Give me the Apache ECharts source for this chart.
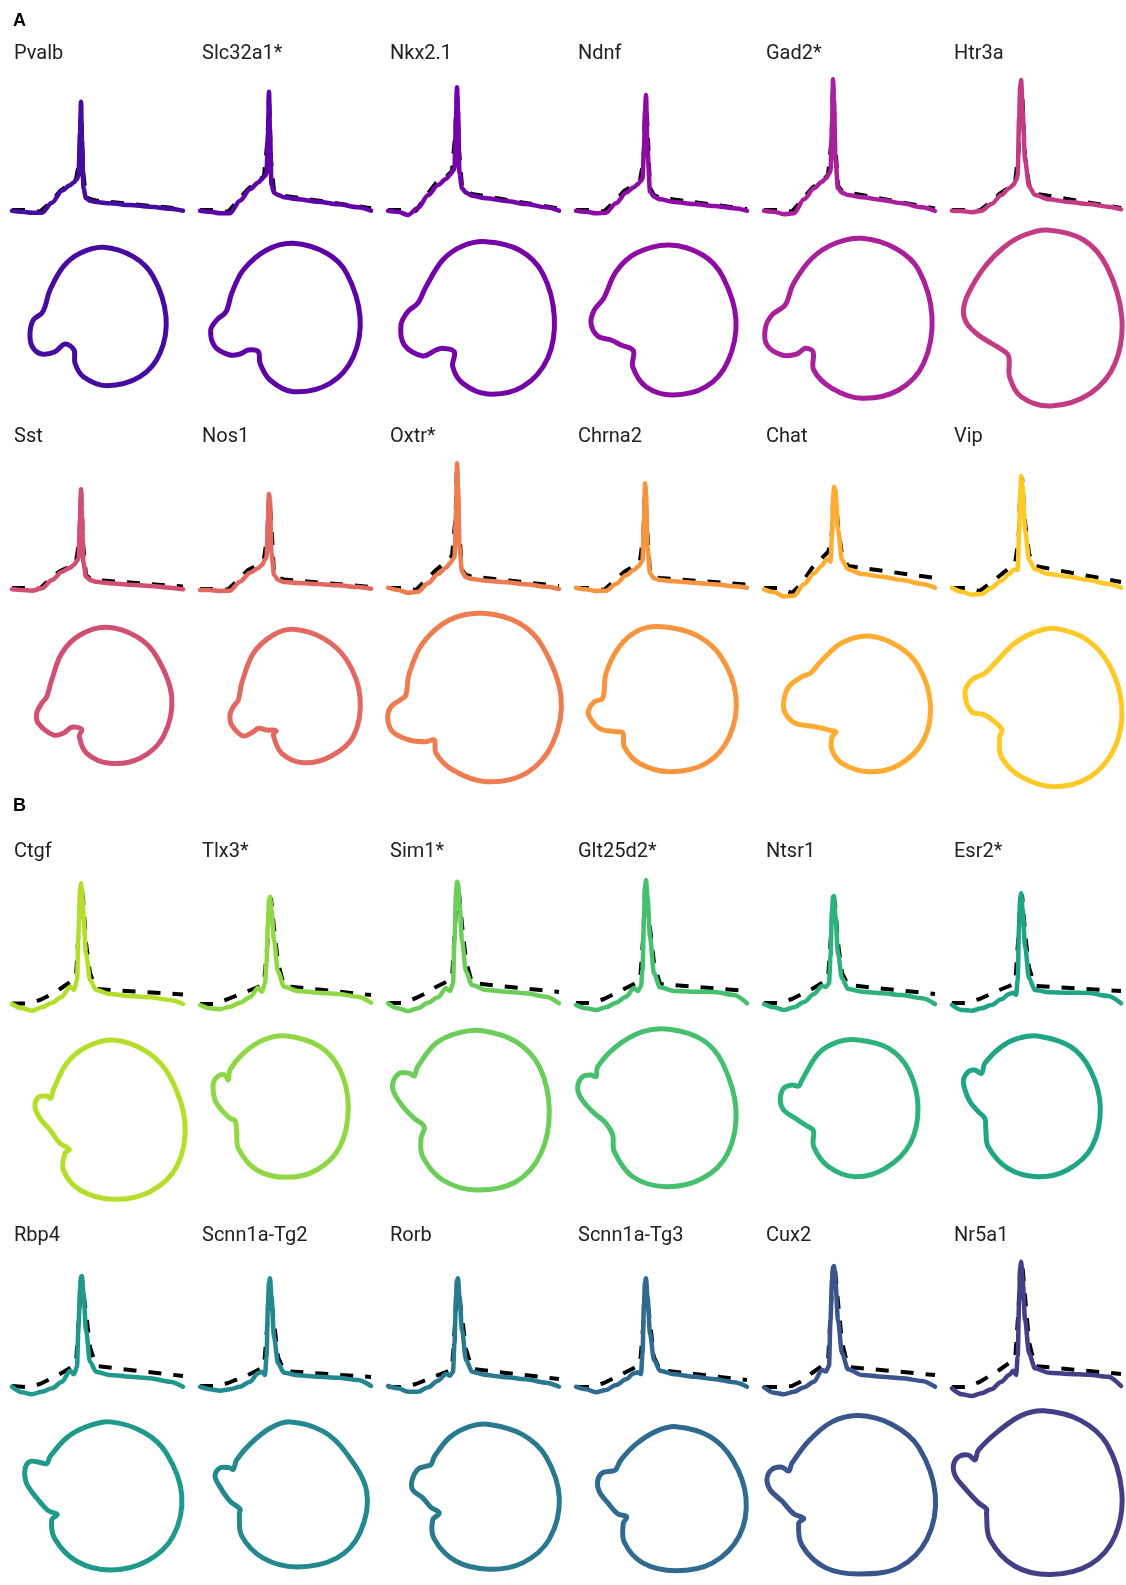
<!DOCTYPE html>
<html><head><meta charset="utf-8">
<script src="https://cdn.jsdelivr.net/npm/echarts/dist/echarts.min.js"></script>
<style>html,body{margin:0;padding:0;background:#fff}#c{width:1126px;height:1585px}</style>
</head><body><div id="c"></div>
<script>
// shared time grids (same for all cells)
const T  = [12, 22, 32, 42, 52, 62, 70, 74, 77, 78.5, 80, 81, 82, 83.5, 86, 90, 96, 110, 130, 150, 170, 183];
const TD = [12, 26, 40, 50, 60, 70, 76, 79.5, 81, 83, 86, 90, 96, 183];

const panelNames = ['Pvalb','Slc32a1*','Nkx2.1','Ndnf','Gad2*','Htr3a','Sst','Nos1','Oxtr*','Chrna2','Chat','Vip',
  'Ctgf','Tlx3*','Sim1*','Glt25d2*','Ntsr1','Esr2*','Rbp4','Scnn1a-Tg2','Rorb','Scnn1a-Tg3','Cux2','Nr5a1'];

// ---- voltage traces (on T) ----
const trPvalb   = [-0.7,-1.7,-2.7,-2.7,7.3,19.3,24.7,27.7,31,34,76.7,108.3,70,21.7,11.7,9.3,8,6.7,5,3.3,1.3,-0.7];
const trSlc32a1 = [-0.7,-1.7,-3.3,-3.3,9.3,20.7,27.3,31,34.3,36.7,76.7,118.3,76.7,25,17.3,15,12.7,10.7,8.3,5.7,2.7,-0.7];
const trNkx21   = [-0.7,-1.7,-5,2,14.7,25,31,35,39.3,41.7,93.3,122.7,100,36.7,21.7,17.3,14.3,11.7,9,6,2.7,-0.7];
const trNdnf    = [-0.7,-1.7,-3.3,-2.7,6.7,17.3,22.7,26,29.3,31.7,60,100,115,60,18.3,13.3,10.7,8,6,4,1.7,-0.7];
const trGad2    = [-0.7,-1.7,-4.3,-3.3,10.7,21.7,28.3,31.7,36,39.3,83.3,130.7,110,50,21.7,17.3,15,12.7,10,6.7,2.7,-1];
const trHtr3a   = [-0.7,-1,-2.3,-0.7,6,15,21.7,25,30,35,93.3,123.3,130,100,50,23.3,15,10.7,8,6,3.3,0.7];
const trSst     = [-1.3,-2,-2.7,-0.3,8,16.3,20.3,23,27.3,29.7,68,98.7,71.3,24.7,11.3,8,6.3,4.7,3.3,2,0.3,-1.3];
const trNos1    = [-2,-2,-3,-2.7,6.3,15.3,19.7,23,28,31.3,68,94,88,34.7,13,8,6,5,4,2.7,1,-0.7];
const trOxtr    = [0.3,-2,-4.7,-3.7,4.7,14,20.3,24.7,28.7,31.3,74.7,124.7,101.3,41.3,16.3,10.7,9,7.3,5.7,3.7,1.3,-1];
const trChrna2  = [0.3,-1.3,-3,-2.7,4,12.7,18,21.3,24.7,28,68,104.7,94.7,41.3,14.7,9.7,8,6.7,5.3,3.7,1.7,0.3];
const trChat    = [-1.3,-4,-8.5,-7.7,3.7,14.7,22.3,28,28.7,26.3,51.3,88,101.3,96.3,58,28,18.7,14,11.3,8,4,0.3];
const trVip     = [0.3,-3.7,-6.7,-6,0.3,7.3,14,18,18.7,18,58,94.7,112,101.3,58,28,18.7,14,11.3,8,4,0.3];
const trCtgf    = [-1,-5.3,-7.7,-4.3,0.3,6.3,16.3,13,23,69.7,113,119.7,113,86.3,49.7,23,13,9,7,5.7,3,-1];
const trTlx3    = [-2,-5.3,-6.3,-3.7,0.3,5.7,15,11.3,19.7,39.7,79.7,103,106.3,93,63,31.3,16.3,12,10.3,9,6.3,0.3];
const trSim1    = [-0.3,-5.3,-8,-5.3,0.3,5.7,14.7,12,19.7,63,109.7,121.3,119.7,99.7,63,31.3,18,13,11.3,9.7,6.3,-0.3];
const trGlt25d2 = [-2,-5.3,-7,-4.3,0.3,6.3,15,12,17,33,86.3,116.3,123,106.3,66.3,29.7,15.7,12,11.3,11,8,-0.3];
const trNtsr1   = [-1,-4.3,-7,-4.3,1,9,17,16,19.7,46.3,93,106.3,107,86.3,49.7,24.7,14,11.3,9.7,8,4.7,-1];
const trEsr2    = [-2,-7,-7.7,-5.3,-2,3.7,9,10.3,8,23,79.7,103,109.7,93,56.3,24.7,13,10.7,10.3,10,7,-0.3];
const trRbp4    = [0.3,-5.3,-7.3,-4.7,-1.3,5.3,16.3,12.7,20.3,60.3,97,110.3,111,93.7,57,25.3,15.3,12,10.3,8.7,5.3,0.3];
const trScnnTg2 = [0.3,-2.3,-3.7,-2.3,0.3,5.3,13.7,15.3,12,30.3,83.7,105.3,108.7,90.3,50.3,23.7,14.3,11.7,10.3,9.3,7,1];
const trRorb    = [1,-1.3,-4.7,-4.7,-0.3,6.3,13,11.3,15.3,43.7,90.3,107,108.7,90.3,57,27,15.3,12,9.7,7.7,4.3,0.3];
const trScnnTg3 = [0.3,-2.3,-5.3,-3,2,7.7,13.7,14.7,13,33.7,83.7,105.3,108.7,90.3,53.7,27,16.3,12.7,10.3,8,4.7,0.3];
const trCux2    = [-0.3,-5.7,-7.3,-4.7,-0.3,5.3,17,15.5,21,67,107,119.7,121,103.7,67,33.7,17.7,12,10.3,8.7,6,0.3];
const trNr5a1   = [-1.3,-7.3,-9,-6.3,-2.3,5.3,12,16.3,12,30.3,87,118.7,125.3,107,67,33.7,18.7,14.3,13,12.3,10.3,1];

// ---- dashed reference traces (on TD) ----
const dsPvalb   = [0,0,-1.5,7,19,26,31,50,108,40,13,11,9.5,1];
const dsSlc32a1 = [0,0,-2,10,21,29,34,70,118,50,19,16.5,14.2,1.8];
const dsNkx21   = [0,0,-1,14,27,33,39,80,122,60,24,19,16,1.5];
const dsNdnf    = [0,0,-1.5,8,19,25,30,50,100,95,22,14.8,12.3,1];
const dsGad2    = [0,0,-1.5,10,22,29,35,70,130,70,24,19,17.5,1.5];
const dsHtr3a   = [0,0,-0.5,7,16,23,29,60,115,120,53,25,16.5,2];
const dsSst     = [0,0,-0.5,9,17,21.5,26,50,99,45,13,9.5,8,1.5];
const dsNos1    = [-1,-1,-1.5,8,18,23,29,55,92,70,14,10,8.5,1];
const dsOxtr    = [0,0,-2,8,18,26,32,70,124,60,18,13,11.5,2];
const dsChrna2  = [0,0,-2,7,16,22,27,55,104,60,16,11,10,3.5];
const dsChat    = [0,0,-5,5,20,30,36,48,85,100,62,33,22,10];
const dsVip     = [0,0,-3,4,12,20,25,50,95,110,65,34,22,6];
const dsCtgf    = [-0.5,-0.5,3,8,14,21,25,90,120,105,60,30,14,8.5];
const dsTlx3    = [-1,-1,4,8,12,16,19,60,100,105,75,40,17,8];
const dsSim1    = [0,0,5,10,16,21,24,85,120,110,78,42,20,11];
const dsGlt25d2 = [0,0,4,9,14,19,22,70,115,115,75,40,19,12];
const dsNtsr1   = [0,0,4,9,14,20,24,75,106,100,60,30,18,9];
const dsEsr2    = [0,0,4,8.5,13,17,20,70,105,108,70,35,17,12];
const dsRbp4    = [1,0,3,8,13,19,23,80,110,108,75,40,21,11];
const dsScnnTg2 = [1,1,4,8,12,17,20,65,105,105,65,30,16,10];
const dsRorb    = [0,0,3,7,11,15,18,70,107,105,70,38,18,8];
const dsScnnTg3 = [0,0,4,9,14,19,22,65,105,105,65,30,17,7];
const dsCux2    = [0,0,1,6,14,21,25,90,122,118,85,45,20,12];
const dsNr5a1   = [0,0,5,11,17,24,28,80,120,125,90,45,21,13];

// ---- closed loops, [x, y] ----
const lpPvalb   = [[103.3,162.7],[133.3,153.3],[153.3,133.3],[166,93.3],[160,56.7],[140,33.3],[106.7,24.3],[83.3,33.3],[75,46.7],[74,60],[65,66],[55,58.3],[41.7,56],[32.3,63.3],[30,76.7],[33.3,90],[41.7,96.7],[45,103.3],[50,120],[63.3,143.3],[80,156.7]];
const lpSlc32a1 = [[105.3,166.7],[138.7,156.7],[158.7,136.7],[172,93.3],[165.3,53.3],[142,26.7],[105.3,18.3],[82,30],[72,46.7],[70.3,58.3],[60.3,60],[52,56],[42,55],[27,63.3],[22.7,80],[28.7,90],[38,98.3],[43.7,116.7],[55.3,140],[78.7,160]];
const lpNkx21   = [[110,168.3],[143.3,160],[166.7,136.7],[178.3,93.3],[171.7,51.7],[146.7,23.3],[111.7,16],[86.7,26.7],[76.7,43.3],[78.3,58.3],[66.7,61.7],[60,60],[46.7,54],[28.3,65],[25,85],[31.7,98.3],[41.7,106.7],[50,123.3],[66.7,150],[86.7,164]];
const lpNdnf    = [[105.3,165],[138.7,155],[158.7,133.3],[172,90],[163.7,48.3],[142,23.3],[108.7,15],[82,23.3],[68.7,43.3],[69.3,59.3],[57,65],[47,70],[33.7,74],[27,86.7],[30.3,100],[39.7,111.7],[52,138.3],[72,156.7]];
const lpGad2    = [[110,171.7],[143.3,161.7],[166.7,140],[180,93.3],[171.7,46.7],[146.7,20],[110,11.7],[80,21.7],[61.7,40],[61,58.3],[53.3,61.7],[45,56],[30,55],[15,65],[13.3,81.7],[20,95],[31.7,103.3],[35,108.3],[41.7,126.7],[60,151.7],[83.3,166.7]];
const lpHtr3a   = [[108.7,180],[145.3,170],[168.7,143.3],[183.7,93.3],[177,46.7],[152,16.7],[112,4],[82,13.3],[70.3,33.3],[69.3,54],[60.3,61.7],[52,66.7],[38.7,75],[27,86.7],[23.7,100],[28.7,116.7],[45.3,143.3],[65.3,163.3],[85.3,175]];
const lpSst     = [[106.7,162.7],[136.7,153.3],[156.7,133.3],[171.7,93.3],[163.3,53.3],[140,31.7],[110,26.7],[86.7,36.7],[79.3,53.3],[81.7,60.7],[71.7,62.7],[63.3,56.7],[53.3,55],[38.3,66.7],[36.7,76.7],[41.7,86.7],[46.7,93.3],[51.7,110],[61.7,136.7],[80,155]];
const lpNos1    = [[105.3,160.7],[135.3,151.7],[158.7,130],[172,93.3],[165.3,53.3],[142,33.3],[115.3,27.3],[93.7,36.7],[85.3,55],[88,59.3],[78.7,60],[70.3,61.7],[65.3,58.3],[55.3,54],[43.7,65],[42,75],[45.3,83.3],[50.3,90],[53.7,106.7],[65.3,136.7],[85.3,155]];
const lpOxtr    = [[106.7,176.7],[143.3,166.7],[166.7,143.3],[185,93.3],[176.7,46.7],[150,16.7],[110,8.3],[76.7,20],[60,36.7],[58.3,50],[50,48.3],[33.3,50],[16.7,58.3],[11.7,71.7],[15,83.3],[26.7,91.7],[30,95],[33.3,116.7],[46.7,146.7],[73.3,170]];
const lpChrna2  = [[98.7,163.3],[132,155],[157,133.3],[172,93.3],[165.3,53.3],[142,26.7],[105.3,18.3],[75.3,26.7],[60.3,43.3],[58.7,57.3],[50.3,58.3],[35.3,61.7],[25.3,73.3],[24.7,80],[30.3,88.3],[38.7,91.7],[42,116.7],[55.3,143.3],[75.3,160]];
const lpChat    = [[116.7,154],[146.7,143.3],[166.7,123.3],[178.3,86.7],[171.7,50],[146.7,25],[116.7,18.3],[90,26.7],[80,40],[80,53.3],[84,58],[78,59.7],[63.3,63.3],[43.3,66.7],[33.3,76.7],[31.7,88.3],[36.7,103.3],[50,113.3],[58.3,116.7],[70,130],[90,147.3]];
const lpVip     = [[115.3,161.7],[148.7,150],[172,123.3],[183.7,83.3],[177,43.3],[152,13.3],[115.3,3.3],[82,13.3],[62,33.3],[60.3,53.3],[62.7,60],[57,66.7],[45.3,75],[32,78.3],[25.3,96.7],[32,110],[45.3,116.7],[55.3,126.7],[75.3,146.7],[95.3,157.7]];
const lpCtgf    = [[113.3,170],[146.7,158.3],[170,133.3],[185,86.7],[176.7,43.3],[150,18.3],[113.3,10.7],[80,20],[63.3,40],[65,56.7],[69.3,60.7],[60,66.7],[50,80],[40,91.7],[35,103.3],[38.3,112.7],[46.7,114],[50.7,111.7],[53.3,120],[66.7,146.7],[86.7,163.3]];
const lpTlx3    = [[98.7,174],[132,163.3],[152,140],[160.3,103.3],[152,63.3],[128.7,40],[98.7,32.7],[68.7,40],[50.3,61.7],[48.7,78.3],[47,89.3],[42,91.7],[33.7,100],[27,110],[25.3,126.7],[30.3,134],[37,135],[40.3,130],[42,140],[55.3,156.7],[75.3,170]];
const lpSim1    = [[106.7,179.3],[140,168.3],[163.3,143.3],[173.3,100],[165,56.7],[140,28.3],[100,20],[66.7,30],[46.7,53.3],[45,71.7],[48.3,83.3],[38.3,91.7],[28.3,101.7],[18.3,116.7],[16.7,126.7],[23.3,136.7],[33.3,136.7],[38.3,134],[41.7,143.3],[60,166.7],[83.3,177.3]];
const lpGlt25d2 = [[105.3,180.7],[138.7,170],[158.7,146.7],[172,100],[163.7,56.7],[138.7,31.7],[102,23.3],[68.7,33.3],[50.3,58.3],[48.7,75],[42,86.7],[28.7,98.3],[17,111.7],[13.7,123.3],[18.7,133.3],[27,135],[32,133.3],[33.7,143.3],[52,163.3],[78.7,178.3]];
const lpNtsr1   = [[106.7,170],[136.7,161.7],[156.7,140],[166,103.3],[158.3,66.7],[133.3,41.7],[103.3,33.3],[76.7,43.3],[61.7,63.3],[61.7,78.3],[60,81],[53.3,85],[43.3,91.7],[31.7,100],[28.3,110],[31.7,121.7],[40,125],[46.7,124],[50,130],[66.7,156.7],[86.7,168.3]];
const lpEsr2    = [[98.7,174],[132,163.3],[152,140],[162,103.3],[153.7,63.3],[128.7,40],[98.7,33.3],[68.7,41.7],[48.7,63.3],[46.3,80],[45.3,91.7],[38.7,98.3],[30.3,108.3],[25.3,120],[23.7,130],[28.7,138.3],[35.3,140],[42,136.7],[45.3,146.7],[62,163.3],[78.7,171.7]];
const lpRbp4    = [[110,161.7],[143.3,151],[166.7,128.3],[181.7,85],[173.3,41.7],[146.7,15],[110,5.7],[76.7,15],[55,38.3],[51.7,58.3],[57.3,64.3],[48.3,68.3],[36.7,81.7],[26.7,96.7],[25,111.7],[30,120],[40,119],[46.7,117.7],[50,125],[66.7,145],[86.7,156.7]];
const lpScnnTg2 = [[102,161.7],[135.3,151.7],[158.7,128.3],[178.7,88.3],[172,45],[148.7,18.3],[108.7,9],[75.3,18.3],[53.7,41.7],[51.3,65],[52,70],[42,78.3],[32,93.3],[27,105],[32,113.3],[42,113.3],[45.3,111.7],[48.7,121.7],[62,138.3],[82,155]];
const lpRorb    = [[113.3,159],[146.7,148.3],[170,125],[183.3,81.7],[173.3,38.3],[146.7,13.3],[113.3,6.7],[80,15],[58.3,38.3],[56.7,58.3],[63.3,65.7],[55,71.7],[46.7,81.7],[36.7,90],[36,100],[41.7,111.7],[50,115],[55,116.7],[58.3,125],[73.3,145],[93.3,156.7]];
const lpScnnTg3 = [[112,156.7],[145.3,146.7],[168.7,121.7],[182,81.7],[175.3,41.7],[148.7,13.3],[112,5],[78.7,13.3],[60.3,35],[59.3,55],[62.7,61.7],[53.7,65],[43.7,76.7],[35.3,88.3],[33.7,100],[38.7,108.3],[48.7,110],[52,111.7],[57,121.7],[72,138.3],[92,151.7]];
const lpCux2    = [[106.7,168.3],[140,159],[166.7,135],[183.3,85],[175,38.3],[146.7,8.3],[106.7,1.7],[73.3,8.3],[50,31.7],[46.7,55],[51.7,60],[41.7,65],[30,78.3],[18.3,90],[15,101.7],[20,111.7],[30,114],[36.7,110],[40,118.3],[56.7,141.7],[80,161.7]];
const lpNr5a1   = [[105.3,173.3],[142,163.3],[168.7,138.3],[183.7,88.3],[177,41.7],[152,11.7],[112,1],[75.3,10],[50.3,38.3],[47,65],[47,70],[38.7,76.7],[25.3,91.7],[15.3,105],[13.7,116.7],[18.7,125],[28.7,126.7],[35.3,121.7],[38.7,131.7],[58.7,151.7],[82,168.3]];

const traces = [trPvalb,trSlc32a1,trNkx21,trNdnf,trGad2,trHtr3a,trSst,trNos1,trOxtr,trChrna2,trChat,trVip,
  trCtgf,trTlx3,trSim1,trGlt25d2,trNtsr1,trEsr2,trRbp4,trScnnTg2,trRorb,trScnnTg3,trCux2,trNr5a1];
const dashes = [dsPvalb,dsSlc32a1,dsNkx21,dsNdnf,dsGad2,dsHtr3a,dsSst,dsNos1,dsOxtr,dsChrna2,dsChat,dsVip,
  dsCtgf,dsTlx3,dsSim1,dsGlt25d2,dsNtsr1,dsEsr2,dsRbp4,dsScnnTg2,dsRorb,dsScnnTg3,dsCux2,dsNr5a1];
const loops = [lpPvalb,lpSlc32a1,lpNkx21,lpNdnf,lpGad2,lpHtr3a,lpSst,lpNos1,lpOxtr,lpChrna2,lpChat,lpVip,
  lpCtgf,lpTlx3,lpSim1,lpGlt25d2,lpNtsr1,lpEsr2,lpRbp4,lpScnnTg2,lpRorb,lpScnnTg3,lpCux2,lpNr5a1];

// styles
const palette = ['#460ba0','#5c02a6','#7402a8','#8e0ca4','#a8219a','#c23b83','#d14f73','#e26862','#ee7c51','#f7953e','#fdac31','#fdc926',
  '#b5de2b','#8fd744','#6ccd5a','#46c06f','#2db27d','#20a486','#1f9a8a','#23898e','#297a8e','#306a8e','#3a548c','#433e85'];
const rowLayout = [
  {base:210,  loopBottom:410,  labelY:54},
  {base:588,  loopBottom:790,  labelY:437},
  {base:1003, loopBottom:1210, labelY:852},
  {base:1387, loopBottom:1585, labelY:1236}
];
const COLW = 188;

const grids = [], xAxes = [], yAxes = [], series = [], graphics = [];
panelNames.forEach((name, k) => {
  const r = Math.floor(k / 6), c = k % 6, L = rowLayout[r], col = palette[k];
  // trace grid
  let gi = grids.length;
  grids.push({left: COLW * c, top: L.base - 140, width: COLW, height: 160});
  xAxes.push({gridIndex: gi, type: 'value', min: 0, max: 188, show: false});
  yAxes.push({gridIndex: gi, type: 'value', min: -20, max: 140, show: false});
  series.push({type: 'line', xAxisIndex: gi, yAxisIndex: gi, clip: false, silent: true,
    data: TD.map((t, i) => [t, dashes[k][i]]), symbol: 'none', z: 2,
    lineStyle: {color: '#000', width: 4, type: [13, 12]}});
  series.push({type: 'line', xAxisIndex: gi, yAxisIndex: gi, clip: false, silent: true,
    data: T.map((t, i) => [t, traces[k][i]]), symbol: 'none', smooth: 0.3, smoothMonotone: 'x', z: 3,
    lineStyle: {color: col, width: 4.5, cap: 'round', join: 'round'}});
  // loop grid: closed smooth curve through the read points, mapped by the axes
  gi = grids.length;
  grids.push({left: COLW * c, top: L.loopBottom - 190, width: COLW, height: 200});
  xAxes.push({gridIndex: gi, type: 'value', min: 0, max: 188, show: false});
  yAxes.push({gridIndex: gi, type: 'value', min: -10, max: 190, show: false});
  const p = loops[k];
  series.push({type: 'custom', coordinateSystem: 'cartesian2d', xAxisIndex: gi, yAxisIndex: gi,
    silent: true, clip: false, z: 3, data: p, encode: {x: 0, y: 1},
    renderItem: function (params, api) {
      if (params.dataIndex !== 0) return null;
      const pts = p.map(q => api.coord(q));
      return {type: 'polygon', shape: {points: pts, smooth: 0.35},
        style: {fill: 'none', stroke: col, lineWidth: 5, lineJoin: 'round'}};
    }});
  graphics.push({type: 'text', x: COLW * c + 14, y: L.labelY,
    style: {text: name, font: '20px Roboto, "Noto Sans", sans-serif', fill: '#222',
      textVerticalAlign: 'middle', verticalAlign: 'middle'}});
});
graphics.push({type: 'text', x: 13, y: 21, style: {text: 'A', font: 'bold 18px "Liberation Sans", Arial, sans-serif', fill: '#000', textVerticalAlign: 'middle', verticalAlign: 'middle'}});
graphics.push({type: 'text', x: 13, y: 806, style: {text: 'B', font: 'bold 18px "Liberation Sans", Arial, sans-serif', fill: '#000', textVerticalAlign: 'middle', verticalAlign: 'middle'}});

const chart = echarts.init(document.getElementById('c'), null, {renderer: 'canvas'});
chart.setOption({
  animation: false,
  backgroundColor: '#fff',
  grid: grids, xAxis: xAxes, yAxis: yAxes, series: series,
  graphic: {elements: graphics}
});
</script>
</body></html>
